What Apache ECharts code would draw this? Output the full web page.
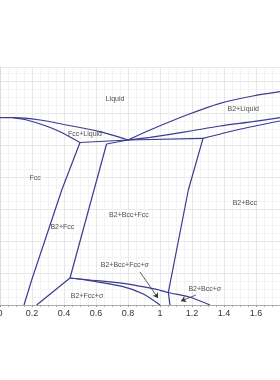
<!DOCTYPE html>
<html>
<head>
<meta charset="utf-8">
<script src="https://cdn.jsdelivr.net/npm/echarts@6/dist/echarts.min.js"></script>
<style>html,body{margin:0;padding:0;background:#fff;}#c{width:280px;height:380px;}</style>
</head>
<body>
<div id="c"></div>
<script>
// x: composition, y: temperature-like units (no tick labels shown in the reference)
var xTicks = [0, 0.2, 0.4, 0.6, 0.8, 1, 1.2, 1.4, 1.6];

var liquidusFcc = [[0, 187.3], [0.081, 187.3], [0.25, 185], [0.417, 180], [0.625, 173.3], [0.8, 165]];
var solidusFcc = [[0.081, 187.3], [0.167, 185], [0.269, 180], [0.375, 173.3], [0.5, 162.5]];
var eutecticLine = [[0.5, 162.5], [0.8, 165], [1.269, 166.7]];
var lineBTop = [[0.666, 161], [0.8, 165]];
var liquidusB2 = [[0.8, 165], [0.9375, 175], [1.167, 190], [1.375, 201.7], [1.58, 209], [1.75, 213.3]];
var b2LiquidMid = [[0.8, 165], [0.9375, 167.7], [1.167, 173.3], [1.375, 179], [1.58, 183.3], [1.75, 187.3]];
var b2LiquidLow = [[1.269, 166.7], [1.479, 175], [1.75, 184]];
var lineA = [[0.5, 162.5], [0.386, 115], [0.198, 25], [0.15, 0]];
var lineB = [[0.666, 161], [0.5875, 115], [0.4375, 27]];
var lineVertexBottom = [[0.4375, 27], [0.229, 0]];
var sigmaUpper = [[0.4375, 27], [0.5625, 25], [0.77, 21.7], [0.979, 15.7], [1.052, 12.5], [1.1875, 7.7], [1.3125, 0]];
var sigmaLower = [[0.4375, 27], [0.5625, 24.3], [0.769, 18.3], [0.896, 11], [1.0, 0]];
var lineC = [[1.269, 166.7], [1.177, 115], [1.052, 12.7], [1.0625, 0]];

var arrows = [
  [[0.875, 33], [0.9875, 7]],
  [[1.225, 10], [1.131, 4]]
];

var regionNames = ['Liquid', 'Fcc+Liquid', 'B2+Liquid', 'Fcc', 'B2+Fcc', 'B2+Bcc+Fcc', 'B2+Bcc', 'B2+Fcc+σ', 'B2+Bcc+Fcc+σ', 'B2+Bcc+σ'];
var regionX = [0.719, 0.531, 1.52, 0.219, 0.39, 0.806, 1.53, 0.544, 0.78, 1.28];
var regionY = [206, 171, 196, 127, 78, 90, 102, 9, 40, 16];

var lineColor = '#3b3b8f';
var smoothCurves = [liquidusFcc, solidusFcc, liquidusB2, b2LiquidMid, b2LiquidLow, sigmaUpper, sigmaLower];
var straightCurves = [eutecticLine, lineBTop, lineA, lineB, lineVertexBottom, lineC];

var series = [];
smoothCurves.forEach(function (d) {
  series.push({
    type: 'line', data: d, smooth: 0.25, showSymbol: false, symbol: 'none',
    lineStyle: { color: lineColor, width: 1.2 }, silent: true, z: 3
  });
});
straightCurves.forEach(function (d) {
  series.push({
    type: 'line', data: d, smooth: false, showSymbol: false, symbol: 'none',
    lineStyle: { color: lineColor, width: 1.2 }, silent: true, z: 3
  });
});

series.push({
  type: 'lines', coordinateSystem: 'cartesian2d',
  symbol: ['none', 'arrow'], symbolSize: 5,
  lineStyle: { color: '#333', width: 0.8, opacity: 1 },
  data: arrows.map(function (a) { return { coords: a }; }),
  silent: true, z: 4
});

series.push({
  type: 'scatter', symbolSize: 0, silent: true, z: 5,
  data: regionNames.map(function (n, i) { return { name: n, value: [regionX[i], regionY[i]] }; }),
  label: {
    show: true, position: 'inside', formatter: '{b}',
    fontFamily: 'Liberation Sans', fontSize: 7, color: '#222'
  }
});

var chart = echarts.init(document.getElementById('c'), null, { renderer: 'canvas' });
chart.setOption({
  animation: false,
  backgroundColor: '#fff',
  grid: { left: 0, right: 0, top: 67, bottom: 75, containLabel: false, outerBoundsMode: 'none' },
  xAxis: [{
    type: 'value', min: 0, max: 1.75, interval: 0.2,
    axisLine: { show: true, onZero: false, lineStyle: { color: '#999', width: 1 } },
    axisTick: { show: true, length: 2, lineStyle: { color: '#999' } },
    minorTick: { show: true, splitNumber: 4, length: 2, lineStyle: { color: '#aaa' } },
    axisLabel: { showMaxLabel: false, fontFamily: 'Liberation Sans', fontSize: 9, color: '#333', margin: 4 },
    splitLine: { show: true, lineStyle: { color: '#e8e8e8', width: 1 } },
    minorSplitLine: { show: true, lineStyle: { color: '#f3f3f3', width: 1 } }
  }, {
    type: 'value', position: 'top', min: 0, max: 1.75,
    axisLine: { show: true, lineStyle: { color: '#aaa', width: 1 } },
    axisTick: { show: false }, axisLabel: { show: false }, splitLine: { show: false }
  }],
  yAxis: {
    type: 'value', min: 0, max: 238, interval: 32,
    axisLine: { show: true, lineStyle: { color: '#ddd' } },
    axisTick: { show: false }, axisLabel: { show: false },
    splitLine: { show: true, lineStyle: { color: '#e8e8e8', width: 1 } },
    minorSplitLine: { show: true, lineStyle: { color: '#f3f3f3', width: 1 } },
    minorTick: { show: false, splitNumber: 4 }
  },
  series: series
});
</script>
</body>
</html>
